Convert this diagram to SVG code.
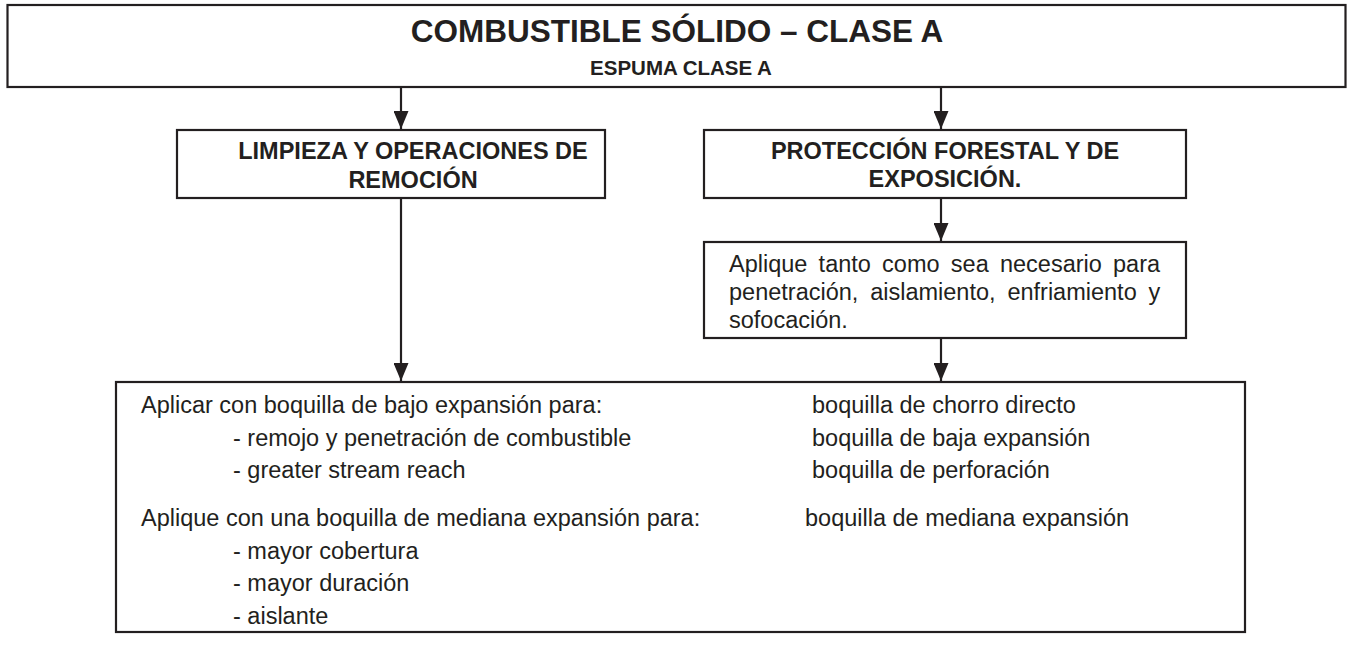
<svg xmlns="http://www.w3.org/2000/svg" width="1356" height="648" viewBox="0 0 1356 648">
<defs>
<style>
.box{fill:#ffffff;stroke:#231f20;stroke-width:2.2}
.conn{stroke:#231f20;stroke-width:2.2;fill:none;marker-end:url(#arr)}
.t{font-family:"Liberation Sans",Arial,sans-serif;fill:#231f20}
.b{font-weight:bold}
.c{text-anchor:middle}
.body{font-size:23.5px}
</style>
<marker id="arr" markerUnits="userSpaceOnUse" markerWidth="18" markerHeight="15" viewBox="0 0 18 15" refX="18" refY="7.5" orient="auto">
<path d="M0,0 L18,7.5 L0,15 Z" fill="#231f20"/>
</marker>
</defs>
<rect width="1356" height="648" fill="#ffffff"/>
<g id="connectors">
<line class="conn" x1="401" y1="88" x2="401" y2="129"/>
<line class="conn" x1="941" y1="88" x2="941" y2="129"/>
<line class="conn" x1="401" y1="199" x2="401" y2="381"/>
<line class="conn" x1="941" y1="199" x2="941" y2="241"/>
<line class="conn" x1="941" y1="339" x2="941" y2="381"/>
</g>
<g id="title">
<rect class="box" x="7.5" y="5" width="1338" height="82" stroke-width="2.6"/>
<text class="t b c" x="677" y="42" font-size="31.5">COMBUSTIBLE SÓLIDO – CLASE A</text>
<text class="t b c" x="681" y="75" font-size="20.5">ESPUMA CLASE A</text>
</g>
<g id="limpieza">
<rect class="box" x="177" y="130" width="428" height="68"/>
<text class="t b c body" x="413" y="159">LIMPIEZA Y OPERACIONES DE</text>
<text class="t b c body" x="413" y="188">REMOCIÓN</text>
</g>
<g id="proteccion">
<rect class="box" x="704" y="130" width="482" height="68"/>
<text class="t b c body" x="945" y="159">PROTECCIÓN FORESTAL Y DE</text>
<text class="t b c body" x="945" y="187">EXPOSICIÓN.</text>
</g>
<g id="aplique">
<rect class="box" x="704" y="242" width="482" height="96"/>
<text class="t body" x="729" y="272" word-spacing="4.7">Aplique tanto como sea necesario para</text>
<text class="t body" x="729" y="300" word-spacing="5.3">penetración, aislamiento, enfriamiento y</text>
<text class="t body" x="729" y="328">sofocación.</text>
</g>
<g id="aplicacion">
<rect class="box" x="116" y="382" width="1129" height="250"/>
<text class="t body" x="141" y="413">Aplicar con boquilla de bajo expansión para:</text>
<text class="t body" x="233" y="445.5">- remojo y penetración de combustible</text>
<text class="t body" x="233" y="478">- greater stream reach</text>
<text class="t body" x="141" y="526">Aplique con una boquilla de mediana expansión para:</text>
<text class="t body" x="233" y="558.5">- mayor cobertura</text>
<text class="t body" x="233" y="591">- mayor duración</text>
<text class="t body" x="233" y="623.5">- aislante</text>
<text class="t body" x="812" y="413">boquilla de chorro directo</text>
<text class="t body" x="812" y="445.5">boquilla de baja expansión</text>
<text class="t body" x="812" y="478">boquilla de perforación</text>
<text class="t body" x="805" y="526">boquilla de mediana expansión</text>
</g>
</svg>
